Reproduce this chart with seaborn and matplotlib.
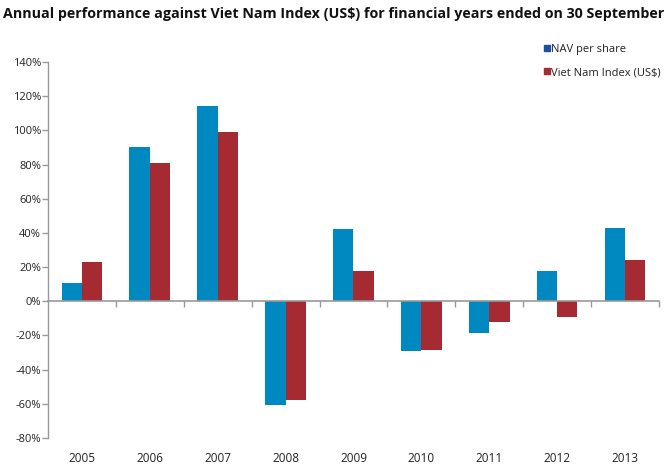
import pandas as pd
import matplotlib
matplotlib.use("Agg")
import matplotlib.pyplot as plt
import seaborn as sns
from matplotlib.lines import Line2D

# DATA

years = ['2005', '2006', '2007', '2008', '2009', '2010', '2011', '2012', '2013']
nav_per_share = [10.7, 90.3, 114.2, -60.8, 42.3, -29.0, -18.7, 17.5, 42.7]
vn_index = [22.8, 80.7, 98.8, -58.0, 18.0, -28.2, -12.3, -9.4, 24.0]
series_names = ['NAV per share', 'Viet Nam Index (US$)']
y_ticks = [-80, -60, -40, -20, 0, 20, 40, 60, 80, 100, 120, 140]

df = pd.DataFrame({
    'Year': years * 2,
    'Return': nav_per_share + vn_index,
    'Series': [series_names[0]] * len(years) + [series_names[1]] * len(years)
})

# STYLE

sns.set_style("white")
plt.rcParams['font.family'] = ['Open Sans', 'DejaVu Sans']

bar_colors = ['#0089C0', '#A52A32']
legend_colors = ['#1F4EA0', '#A52A32']
grey = '#999999'
text_color = '#222222'

fig = plt.figure(figsize=(6.69, 4.70), dpi=100)
ax = fig.add_axes([0.0717, 0.068, 0.9133, 0.8])

sns.barplot(
    data=df,
    x='Year',
    y='Return',
    hue='Series',
    palette=bar_colors,
    width=0.6,
    saturation=1,
    linewidth=0,
    edgecolor='none',
    legend=False,
    ax=ax
)

ax.set_xlim(-0.5, len(years) - 0.5)
ax.set_ylim(-80, 140)
ax.set_yticks(y_ticks)
ax.set_yticklabels([f"{v}%" for v in y_ticks], fontsize=8, color=text_color)
ax.set_xlabel("")
ax.set_ylabel("")

# x axis line at zero with ticks between categories
ax.spines['bottom'].set_position(('data', 0))
ax.spines['bottom'].set_color(grey)
ax.spines['bottom'].set_linewidth(1.2)
ax.spines['left'].set_color(grey)
ax.spines['left'].set_linewidth(1.0)
ax.spines['top'].set_visible(False)
ax.spines['right'].set_visible(False)

ax.set_xticks([i + 0.5 for i in range(len(years))])
ax.set_xticklabels([])
ax.tick_params(axis='x', bottom=True, direction='out', length=4, width=1, color=grey)
ax.tick_params(axis='y', left=True, direction='out', length=4, width=1, color=grey, pad=1)

# year labels along the bottom of the plot
sec = ax.secondary_xaxis(-0.025)
sec.set_xticks(range(len(years)))
sec.set_xticklabels(years, fontsize=8.5, color=text_color)
sec.tick_params(length=0)
sec.spines['bottom'].set_visible(False)

# legend
handles = [
    Line2D([0], [0], marker='s', linestyle='', markersize=5,
           markerfacecolor=c, markeredgecolor=c)
    for c in legend_colors
]
ax.legend(
    handles, series_names,
    loc='upper left',
    bbox_to_anchor=(0.795, 1.075),
    frameon=False,
    fontsize=8,
    handlelength=0.6,
    handletextpad=0.1,
    labelspacing=1.1,
    labelcolor=text_color
)

fig.text(
    0.004, 0.985,
    "Annual performance against Viet Nam Index (US$) for financial years ended on 30 September",
    fontsize=10.3, fontweight='bold', color='#111111', va='top', ha='left'
)

fig.savefig("out.png", dpi=100)
